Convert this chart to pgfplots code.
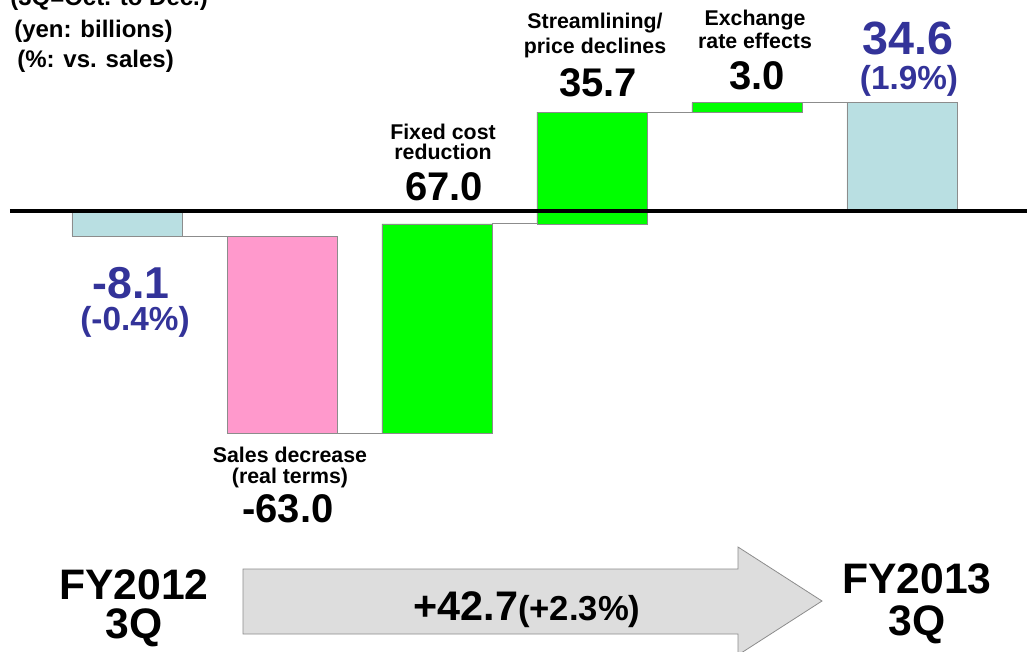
\documentclass[border=0pt]{standalone}
\usepackage{fontspec}
\setmainfont{Liberation Sans}
\usepackage{pgfplots}
\pgfplotsset{compat=1.18}
\usepackage{pgfplotstable}

\definecolor{lblue}{HTML}{B9DFE2}
\definecolor{pinkb}{HTML}{FF99CC}
\definecolor{greenb}{HTML}{00FF00}
\definecolor{navy}{HTML}{333399}
\definecolor{edge}{HTML}{8C8C8C}
\definecolor{arrowfill}{HTML}{DDDDDD}

% waterfall: invisible base + coloured segments (billions of yen)
\pgfplotstableread{
x base lb pink green
0 0 -8.1 0 0
1 -8.1 0 -63.0 0
2 -71.1 0 0 67.0
3 -4.1 0 0 35.7
4 31.6 0 0 3.0
5 0 34.6 0 0
}\bars

% connector lines between bars
\pgfplotstableread{
x y
0.355 -8.1
0.645 -8.1
nan nan
1.355 -71.1
1.645 -71.1
nan nan
2.355 -4.1
2.645 -4.1
nan nan
3.355 31.6
3.645 31.6
nan nan
4.355 34.6
4.645 34.6
}\links

\begin{document}
\begin{tikzpicture}
\pgfplotsset{common/.style={scale only axis, width=770.25pt, height=489pt,
  hide axis, clip=false, at={(0,0)}, anchor=south west}}
\tikzset{lbl/.style={anchor=base, inner sep=0pt, font=\bfseries\fontsize{16}{19}\selectfont},
  num/.style={anchor=base, inner sep=0pt, font=\bfseries\fontsize{30}{36}\selectfont}}

\begin{axis}[common, xmin=-0.8194, xmax=5.8065, ymin=-140.89, ymax=67.41,
  ybar stacked, stack negative=on previous, bar width=0.71]
\addplot[draw=none, fill=none] table[x=x,y=base]{\bars};
\addplot[draw=edge, fill=lblue] table[x=x,y=lb]{\bars};
\addplot[draw=edge, fill=pinkb] table[x=x,y=pink]{\bars};
\addplot[draw=edge, fill=greenb] table[x=x,y=green]{\bars};
\end{axis}

\begin{axis}[common, xmin=-0.8194, xmax=5.8065, ymin=-140.89, ymax=67.41,
  unbounded coords=jump]
\addplot[edge, line width=0.75pt] table[x=x,y=y]{\links};
\addplot[black, line width=3pt] coordinates {(-0.756,0) (5.8065,0)};
\end{axis}

\begin{axis}[common, xmin=0, xmax=1027, ymin=0, ymax=652, y dir=reverse]
\filldraw[fill=arrowfill, draw=edge, line width=0.6pt]
  (243,569) -- (738,569) -- (738,547) -- (822,601) -- (738,655) -- (738,634) -- (243,634) -- cycle;

\node[lbl, anchor=base west, font=\bfseries\fontsize{18}{22}\selectfont] at (10,6) {(3Q=Oct. to Dec.)};
\node[lbl, anchor=base west, font=\bfseries\fontsize{18}{22}\selectfont] at (14,38) {(yen: billions)};
\node[lbl, anchor=base west, font=\bfseries\fontsize{18}{22}\selectfont] at (17,68) {(\%: vs. sales)};

\node[num, text=navy, font=\bfseries\fontsize{33.5}{40}\selectfont] at (131,298) {-8.1};
\node[num, text=navy, font=\bfseries\fontsize{25}{30}\selectfont] at (135,330) {(-0.4\%)};

\node[lbl] at (290,462) {Sales decrease};
\node[lbl] at (290,483) {(real terms)};
\node[num] at (288,522) {-63.0};

\node[lbl] at (443,140) {Fixed cost};
\node[lbl] at (443,160) {reduction};
\node[num] at (444,200) {67.0};

\node[lbl] at (595,29) {Streamlining/};
\node[lbl] at (595,54) {price declines};
\node[num] at (598,97) {35.7};

\node[lbl] at (755,26) {Exchange};
\node[lbl] at (755,49) {rate effects};
\node[num] at (757,90) {3.0};

\node[num, text=navy, font=\bfseries\fontsize{35}{42}\selectfont] at (908,55) {34.6};
\node[num, text=navy, font=\bfseries\fontsize{25}{30}\selectfont] at (909,90) {(1.9\%)};

\node[num, font=\bfseries\fontsize{32}{38}\selectfont] at (134,599) {FY2012};
\node[num, font=\bfseries\fontsize{32}{38}\selectfont] at (134,638) {3Q};
\node[num, font=\bfseries\fontsize{32}{38}\selectfont] at (917,593) {FY2013};
\node[num, font=\bfseries\fontsize{32}{38}\selectfont] at (917,635) {3Q};

\node[num] at (527,620) {{\fontsize{31}{37}\selectfont +42.7}{\fontsize{26}{31}\selectfont(+2.3\%)}};
\end{axis}
\pgfresetboundingbox
\path (0,0) rectangle (770.25pt,489pt);
\end{tikzpicture}
\end{document}
